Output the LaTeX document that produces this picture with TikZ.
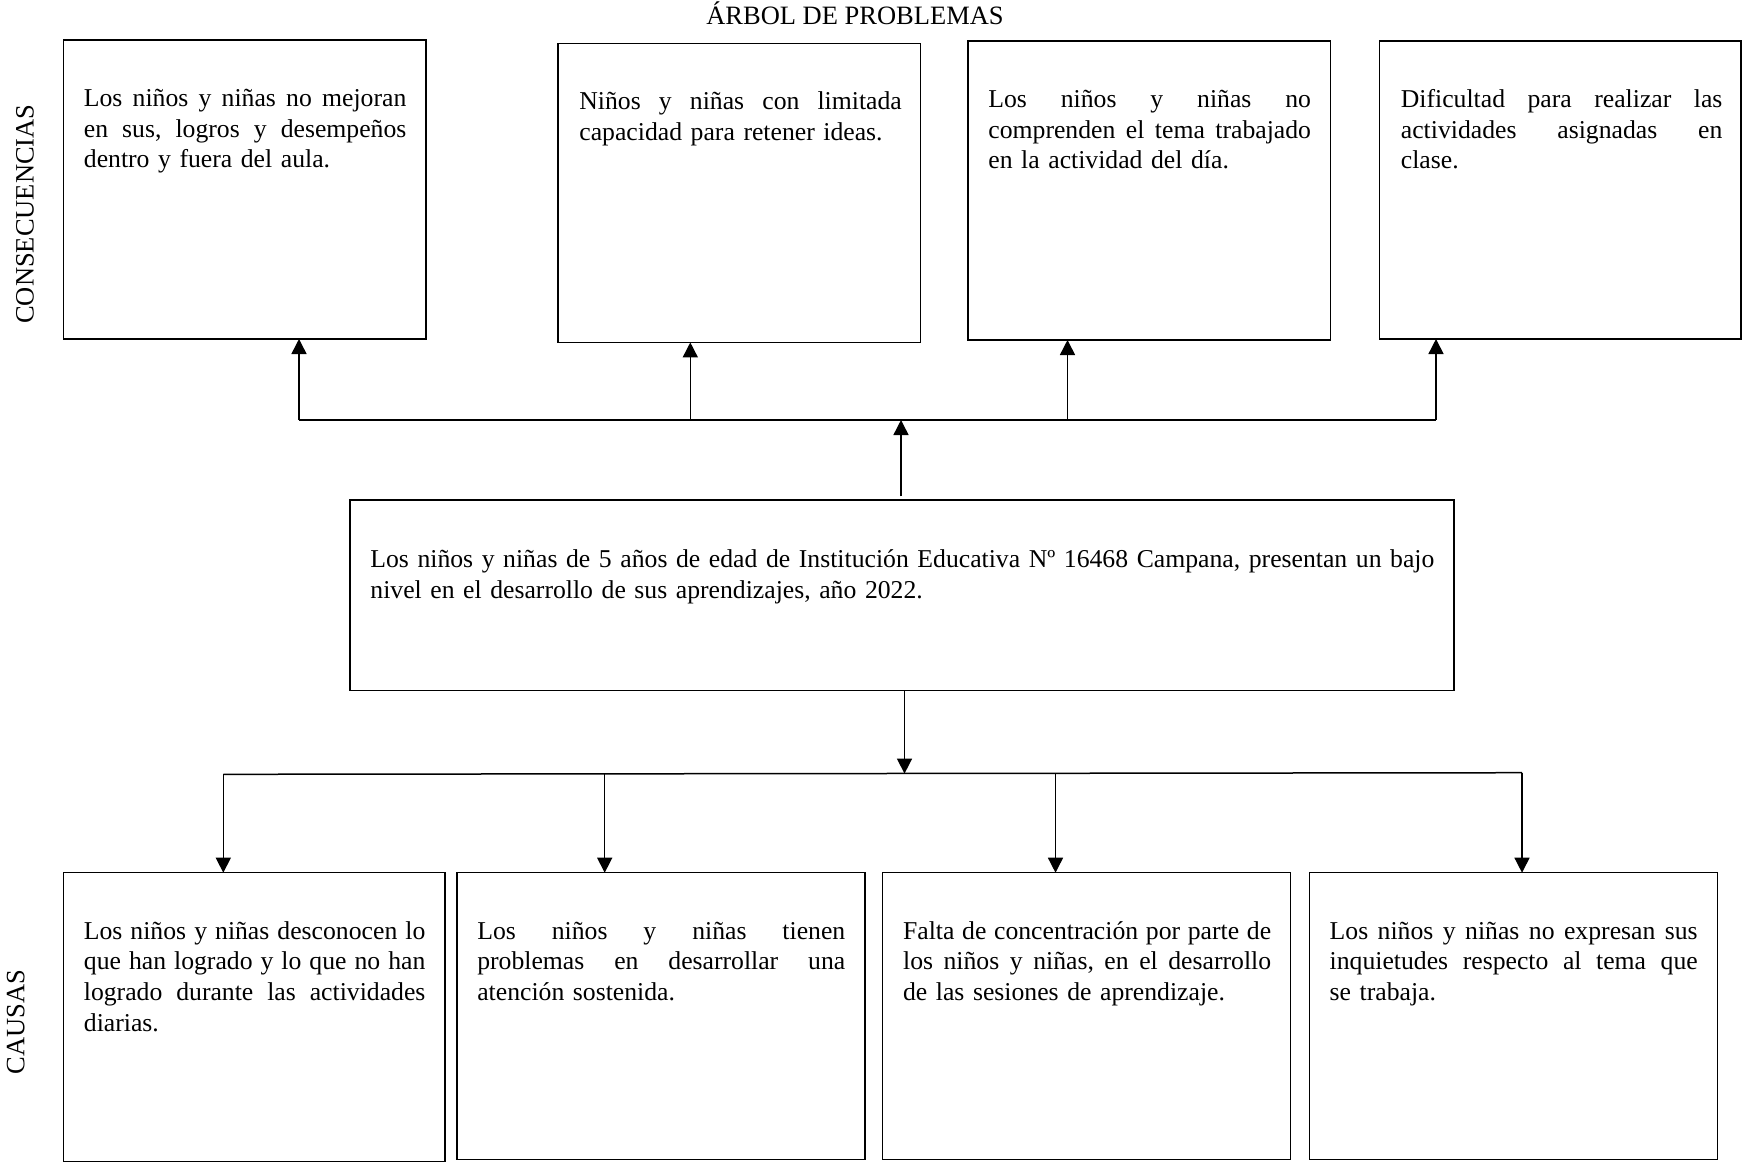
\documentclass[tikz,border=0pt]{standalone}
\usepackage{fontspec}
\setmainfont{Liberation Serif}
\usetikzlibrary{arrows.meta}
\newcommand{\fs}{\fontsize{12.85pt}{15.35pt}\selectfont}
\newcommand{\fl}{\fontsize{13.25pt}{15.35pt}\selectfont}
\newdimen\twd
% justified line: every space becomes a stretchable space
\def\jlx#1 {#1\futurelet\jlnext\jly}
\def\jly{\ifx\jlnext\relax\expandafter\jlz\else\hskip\fontdimen2\font plus 1fil minus 0.16em\relax\expandafter\jlx\fi}
\def\jlz\relax{}
\newcommand{\jl}[1]{\leavevmode\hbox to \twd{\strut\jlx#1 \relax}\\}
\tikzset{
  box/.style={draw, line width=0.75pt, rectangle, anchor=north west, inner sep=0pt, outer sep=0pt},
  txt/.style={anchor=north west, inner sep=0pt, align=left, font=\fs,
    text width=#1, execute at begin node={\global\twd=#1\relax}},
  lbl/.style={inner sep=0pt, font=\fl},
  conn/.style={line width=0.75pt},
  arr/.style={line width=0.75pt, -{Triangle[length=7.5pt,width=7.5pt]}}
}
\begin{document}
\begin{tikzpicture}[x=0.5pt,y=-0.5pt]
\useasboundingbox[fill=white] (0,0) rectangle (1743,1163);

% title and side labels
\node[lbl, anchor=base] (title) at (855,24) {ÁRBOL DE PROBLEMAS};
\node[lbl, rotate=90, anchor=center] (lcons) at (25,214) {CONSECUENCIAS};
\node[lbl, rotate=90, anchor=center] (lcaus) at (15.8,1022) {CAUSAS};

% consequence boxes
\node[box, minimum width=181.25pt, minimum height=149.5pt] (c1) at (63.5,40) {};
\node[box, minimum width=181.2pt, minimum height=149.5pt] (c2) at (558,43.4) {};
\node[box, minimum width=181.3pt, minimum height=149.5pt] (c3) at (968,41) {};
\node[box, minimum width=180.75pt, minimum height=149pt] (c4) at (1379.5,41) {};

\node[txt=161.25pt] (tc1) at ([shift={(20,44.5)}]c1.north west)
  {\jl{Los niños y niñas no mejoran}\jl{en sus, logros y desempeños}dentro y fuera del aula.};
\node[txt=161.2pt] (tc2) at ([shift={(21,44.5)}]c2.north west)
  {\jl{Niños y niñas con limitada}capacidad para retener ideas.};
\node[txt=161.3pt] (tc3) at ([shift={(20,44.5)}]c3.north west)
  {\jl{Los niños y niñas no}\jl{comprenden el tema trabajado}en la actividad del día.};
\node[txt=160.75pt] (tc4) at ([shift={(21,44.5)}]c4.north west)
  {\jl{Dificultad para realizar las}\jl{actividades asignadas en}clase.};

% central problem
\node[box, minimum width=552pt, minimum height=95.35pt] (main) at (350,500) {};
\node[txt=532pt] (tmain) at ([shift={(20,45.5)}]main.north west)
  {\jl{Los niños y niñas de 5 años de edad de Institución Educativa Nº 16468 Campana, presentan un bajo}nivel en el desarrollo de sus aprendizajes, año 2022.};

% cause boxes
\node[box, minimum width=190.75pt, minimum height=144.5pt] (b1) at (63.5,872.7) {};
\node[box, minimum width=204pt, minimum height=143.35pt] (b2) at (456.9,872.7) {};
\node[box, minimum width=204pt, minimum height=143.35pt] (b3) at (882.7,872.7) {};
\node[box, minimum width=204pt, minimum height=143.3pt] (b4) at (1309.3,872.7) {};

\node[txt=170.75pt] (tb1) at ([shift={(20,44.5)}]b1.north west)
  {\jl{Los niños y niñas desconocen lo}\jl{que han logrado y lo que no han}\jl{logrado durante las actividades}diarias.};
\node[txt=184pt] (tb2) at ([shift={(20,44.5)}]b2.north west)
  {\jl{Los niños y niñas tienen}\jl{problemas en desarrollar una}atención sostenida.};
\node[txt=184pt] (tb3) at ([shift={(20,44.5)}]b3.north west)
  {\jl{Falta de concentración por parte de}\jl{los niños y niñas, en el desarrollo}de las sesiones de aprendizaje.};
\node[txt=184pt] (tb4) at ([shift={(20,44.5)}]b4.north west)
  {\jl{Los niños y niñas no expresan sus}\jl{inquietudes respecto al tema que}se trabaja.};

% upper connectors
\coordinate (u1) at (299,420);
\coordinate (u2) at (690.3,420);
\coordinate (u3) at (1067.5,420);
\coordinate (u4) at (1436,420);
\coordinate (ut) at (901,420);
\draw[conn] (u1) -- (u4);
\draw[arr] (u1) -- (u1 |- c1.south);
\draw[arr] (u2) -- (u2 |- c2.south);
\draw[arr] (u3) -- (u3 |- c3.south);
\draw[arr] (u4) -- (u4 |- c4.south);
\draw[arr, shorten <=1.8pt] (main.north -| ut) -- (ut);

% lower connectors
\coordinate (dt) at (904.5,773.6);
\coordinate (d1) at (223.3,774.3);
\coordinate (d2) at (604.7,774);
\coordinate (d3) at (1055.5,773.3);
\coordinate (d4) at (1522,772.7);
\draw[arr] (main.south -| dt) -- (dt);
\draw[conn] (d1) -- (d4);
\draw[arr] (d1) -- (d1 |- b1.north);
\draw[arr] (d2) -- (d2 |- b2.north);
\draw[arr] (d3) -- (d3 |- b3.north);
\draw[arr] (d4) -- (d4 |- b4.north);
\end{tikzpicture}
\end{document}
